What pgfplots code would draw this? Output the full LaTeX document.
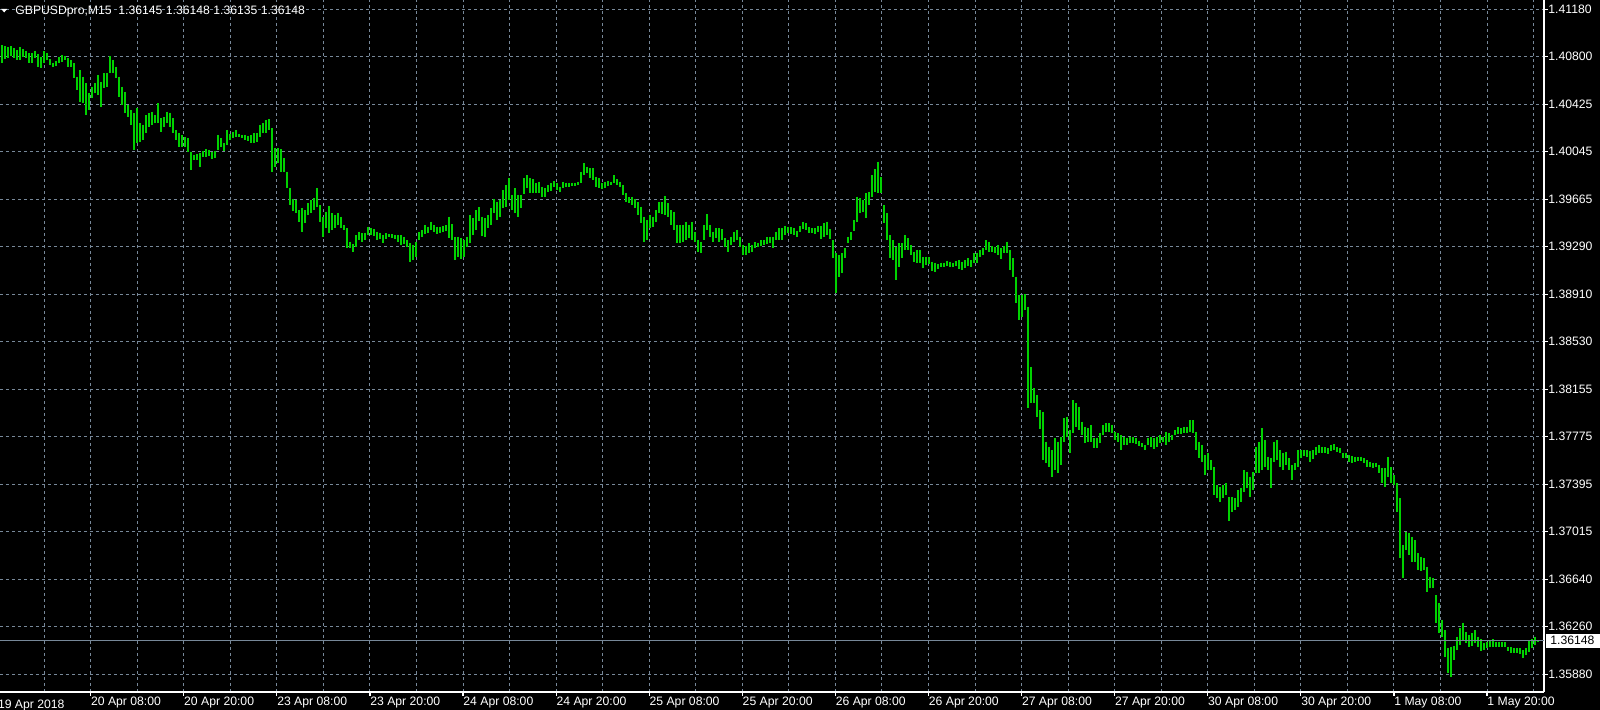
\documentclass[border=0pt]{standalone}
\usepackage{fontspec}
\setmainfont{Liberation Sans}
\usepackage{pgfplots}
\usepackage{pgfplotstable}
\pgfplotsset{compat=1.18}
\definecolor{barg}{RGB}{0,210,0}
\definecolor{gridc}{RGB}{119,136,153}
% each bar: high, low, then a break
\pgfplotstableread{
k p
0 1.40895
0 1.40750
0 nan
1 1.40887
1 1.40781
1 nan
2 1.40879
2 1.40792
2 nan
3 1.40887
3 1.40808
3 nan
4 1.40869
4 1.40789
4 nan
5 1.40856
5 1.40776
5 nan
6 1.40879
6 1.40776
6 nan
7 1.40861
7 1.40802
7 nan
8 1.40850
8 1.40789
8 nan
9 1.40829
9 1.40750
9 nan
10 1.40834
10 1.40754
10 nan
11 1.40850
11 1.40789
11 nan
12 1.40824
12 1.40718
12 nan
13 1.40802
13 1.40710
13 nan
14 1.40848
14 1.40750
14 nan
15 1.40834
15 1.40776
15 nan
16 1.40781
16 1.40736
16 nan
17 1.40754
17 1.40718
17 nan
18 1.40770
18 1.40728
18 nan
19 1.40802
19 1.40750
19 nan
20 1.40816
20 1.40762
20 nan
21 1.40808
21 1.40776
21 nan
22 1.40789
22 1.40718
22 nan
23 1.40776
23 1.40722
23 nan
24 1.40750
24 1.40630
24 nan
25 1.40643
25 1.40537
25 nan
26 1.40696
26 1.40444
26 nan
27 1.40643
27 1.40431
27 nan
28 1.40590
28 1.40337
28 nan
29 1.40510
29 1.40377
29 nan
30 1.40563
30 1.40471
30 nan
31 1.40590
31 1.40510
31 nan
32 1.40656
32 1.40497
32 nan
33 1.40603
33 1.40404
33 nan
34 1.40670
34 1.40550
34 nan
35 1.40675
35 1.40563
35 nan
36 1.40808
36 1.40670
36 nan
37 1.40776
37 1.40670
37 nan
38 1.40722
38 1.40630
38 nan
39 1.40643
39 1.40483
39 nan
40 1.40563
40 1.40417
40 nan
41 1.40523
41 1.40351
41 nan
42 1.40417
42 1.40324
42 nan
43 1.40377
43 1.40258
43 nan
44 1.40351
44 1.40059
44 nan
45 1.40391
45 1.40112
45 nan
46 1.40271
46 1.40125
46 nan
47 1.40258
47 1.40138
47 nan
48 1.40337
48 1.40192
48 nan
49 1.40351
49 1.40244
49 nan
50 1.40364
50 1.40258
50 nan
51 1.40337
51 1.40271
51 nan
52 1.40431
52 1.40271
52 nan
53 1.40311
53 1.40204
53 nan
54 1.40319
54 1.40244
54 nan
55 1.40364
55 1.40271
55 nan
56 1.40356
56 1.40244
56 nan
57 1.40311
57 1.40192
57 nan
58 1.40218
58 1.40138
58 nan
59 1.40192
59 1.40085
59 nan
60 1.40178
60 1.40080
60 nan
61 1.40165
61 1.40085
61 nan
62 1.40152
62 1.40045
62 nan
63 1.40045
63 1.39899
63 nan
64 1.40019
64 1.39979
64 nan
65 1.40027
65 1.39979
65 nan
66 1.40032
66 1.39921
66 nan
67 1.40053
67 1.40000
67 nan
68 1.40064
68 1.40005
68 nan
69 1.40059
69 1.40011
69 nan
70 1.40045
70 1.39984
70 nan
71 1.40053
71 1.39992
71 nan
72 1.40178
72 1.40059
72 nan
73 1.40152
73 1.40085
73 nan
74 1.40112
74 1.40053
74 nan
75 1.40218
75 1.40098
75 nan
76 1.40186
76 1.40138
76 nan
77 1.40204
77 1.40152
77 nan
78 1.40218
78 1.40160
78 nan
79 1.40186
79 1.40160
79 nan
80 1.40178
80 1.40152
80 nan
81 1.40178
81 1.40138
81 nan
82 1.40170
82 1.40133
82 nan
83 1.40178
83 1.40117
83 nan
84 1.40196
84 1.40117
84 nan
85 1.40192
85 1.40125
85 nan
86 1.40258
86 1.40165
86 nan
87 1.40271
87 1.40192
87 nan
88 1.40298
88 1.40196
88 nan
89 1.40303
89 1.40218
89 nan
90 1.40231
90 1.39886
90 nan
91 1.40072
91 1.39925
91 nan
92 1.40072
92 1.39953
92 nan
93 1.40064
93 1.39886
93 nan
94 1.39992
94 1.39886
94 nan
95 1.39886
95 1.39753
95 nan
96 1.39753
96 1.39620
96 nan
97 1.39666
97 1.39575
97 nan
98 1.39660
98 1.39554
98 nan
99 1.39580
99 1.39487
99 nan
100 1.39594
100 1.39407
100 nan
101 1.39580
101 1.39474
101 nan
102 1.39634
102 1.39540
102 nan
103 1.39660
103 1.39554
103 nan
104 1.39674
104 1.39580
104 nan
105 1.39753
105 1.39602
105 nan
106 1.39620
106 1.39487
106 nan
107 1.39527
107 1.39368
107 nan
108 1.39567
108 1.39434
108 nan
109 1.39612
109 1.39399
109 nan
110 1.39554
110 1.39421
110 nan
111 1.39540
111 1.39434
111 nan
112 1.39559
112 1.39461
112 nan
113 1.39527
113 1.39434
113 nan
114 1.39461
114 1.39421
114 nan
115 1.39434
115 1.39275
115 nan
116 1.39328
116 1.39275
116 nan
117 1.39309
117 1.39248
117 nan
118 1.39381
118 1.39288
118 nan
119 1.39407
119 1.39341
119 nan
120 1.39395
120 1.39328
120 nan
121 1.39399
121 1.39341
121 nan
122 1.39447
122 1.39381
122 nan
123 1.39434
123 1.39381
123 nan
124 1.39427
124 1.39373
124 nan
125 1.39407
125 1.39341
125 nan
126 1.39399
126 1.39347
126 nan
127 1.39381
127 1.39320
127 nan
128 1.39395
128 1.39347
128 nan
129 1.39389
129 1.39363
129 nan
130 1.39389
130 1.39357
130 nan
131 1.39381
131 1.39347
131 nan
132 1.39381
132 1.39328
132 nan
133 1.39381
133 1.39301
133 nan
134 1.39368
134 1.39309
134 nan
135 1.39341
135 1.39288
135 nan
136 1.39315
136 1.39164
136 nan
137 1.39301
137 1.39182
137 nan
138 1.39328
138 1.39208
138 nan
139 1.39407
139 1.39341
139 nan
140 1.39421
140 1.39363
140 nan
141 1.39461
141 1.39389
141 nan
142 1.39447
142 1.39395
142 nan
143 1.39487
143 1.39421
143 nan
144 1.39461
144 1.39407
144 nan
145 1.39447
145 1.39389
145 nan
146 1.39447
146 1.39399
146 nan
147 1.39453
147 1.39407
147 nan
148 1.39461
148 1.39415
148 nan
149 1.39527
149 1.39355
149 nan
150 1.39469
150 1.39341
150 nan
151 1.39368
151 1.39182
151 nan
152 1.39368
152 1.39208
152 nan
153 1.39355
153 1.39187
153 nan
154 1.39341
154 1.39208
154 nan
155 1.39368
155 1.39288
155 nan
156 1.39540
156 1.39315
156 nan
157 1.39514
157 1.39381
157 nan
158 1.39580
158 1.39421
158 nan
159 1.39602
159 1.39495
159 nan
160 1.39527
160 1.39373
160 nan
161 1.39514
161 1.39368
161 nan
162 1.39540
162 1.39434
162 nan
163 1.39594
163 1.39461
163 nan
164 1.39666
164 1.39554
164 nan
165 1.39646
165 1.39501
165 nan
166 1.39660
166 1.39527
166 nan
167 1.39740
167 1.39594
167 nan
168 1.39780
168 1.39607
168 nan
169 1.39833
169 1.39660
169 nan
170 1.39700
170 1.39580
170 nan
171 1.39753
171 1.39554
171 nan
172 1.39700
172 1.39527
172 nan
173 1.39700
173 1.39596
173 nan
174 1.39835
174 1.39708
174 nan
175 1.39859
175 1.39753
175 nan
176 1.39833
176 1.39713
176 nan
177 1.39825
177 1.39718
177 nan
178 1.39793
178 1.39718
178 nan
179 1.39806
179 1.39713
179 nan
180 1.39766
180 1.39686
180 nan
181 1.39753
181 1.39682
181 nan
182 1.39780
182 1.39726
182 nan
183 1.39793
183 1.39734
183 nan
184 1.39814
184 1.39766
184 nan
185 1.39793
185 1.39740
185 nan
186 1.39766
186 1.39726
186 nan
187 1.39806
187 1.39753
187 nan
188 1.39798
188 1.39761
188 nan
189 1.39798
189 1.39766
189 nan
190 1.39798
190 1.39772
190 nan
191 1.39798
191 1.39772
191 nan
192 1.39806
192 1.39780
192 nan
193 1.39886
193 1.39793
193 nan
194 1.39953
194 1.39859
194 nan
195 1.39925
195 1.39873
195 nan
196 1.39913
196 1.39833
196 nan
197 1.39913
197 1.39819
197 nan
198 1.39846
198 1.39766
198 nan
199 1.39833
199 1.39753
199 nan
200 1.39793
200 1.39745
200 nan
201 1.39806
201 1.39753
201 nan
202 1.39814
202 1.39772
202 nan
203 1.39806
203 1.39780
203 nan
204 1.39859
204 1.39793
204 nan
205 1.39825
205 1.39780
205 nan
206 1.39806
206 1.39766
206 nan
207 1.39780
207 1.39700
207 nan
208 1.39713
208 1.39646
208 nan
209 1.39682
209 1.39634
209 nan
210 1.39686
210 1.39620
210 nan
211 1.39666
211 1.39594
211 nan
212 1.39646
212 1.39540
212 nan
213 1.39607
213 1.39474
213 nan
214 1.39527
214 1.39328
214 nan
215 1.39501
215 1.39341
215 nan
216 1.39540
216 1.39434
216 nan
217 1.39527
217 1.39447
217 nan
218 1.39580
218 1.39487
218 nan
219 1.39646
219 1.39554
219 nan
220 1.39646
220 1.39548
220 nan
221 1.39692
221 1.39540
221 nan
222 1.39634
222 1.39527
222 nan
223 1.39580
223 1.39461
223 nan
224 1.39567
224 1.39421
224 nan
225 1.39461
225 1.39315
225 nan
226 1.39461
226 1.39315
226 nan
227 1.39461
227 1.39328
227 nan
228 1.39487
228 1.39341
228 nan
229 1.39461
229 1.39355
229 nan
230 1.39487
230 1.39341
230 nan
231 1.39407
231 1.39328
231 nan
232 1.39341
232 1.39248
232 nan
233 1.39328
233 1.39235
233 nan
234 1.39461
234 1.39341
234 nan
235 1.39548
235 1.39421
235 nan
236 1.39461
236 1.39368
236 nan
237 1.39407
237 1.39328
237 nan
238 1.39434
238 1.39355
238 nan
239 1.39434
239 1.39328
239 nan
240 1.39427
240 1.39341
240 nan
241 1.39355
241 1.39288
241 nan
242 1.39341
242 1.39248
242 nan
243 1.39368
243 1.39301
243 nan
244 1.39407
244 1.39328
244 nan
245 1.39421
245 1.39341
245 nan
246 1.39368
246 1.39288
246 nan
247 1.39301
247 1.39222
247 nan
248 1.39293
248 1.39222
248 nan
249 1.39315
249 1.39235
249 nan
250 1.39301
250 1.39248
250 nan
251 1.39328
251 1.39275
251 nan
252 1.39320
252 1.39283
252 nan
253 1.39341
253 1.39293
253 nan
254 1.39341
254 1.39301
254 nan
255 1.39363
255 1.39309
255 nan
256 1.39368
256 1.39315
256 nan
257 1.39368
257 1.39275
257 nan
258 1.39407
258 1.39341
258 nan
259 1.39434
259 1.39341
259 nan
260 1.39434
260 1.39341
260 nan
261 1.39453
261 1.39381
261 nan
262 1.39447
262 1.39395
262 nan
263 1.39442
263 1.39389
263 nan
264 1.39434
264 1.39381
264 nan
265 1.39415
265 1.39368
265 nan
266 1.39453
266 1.39407
266 nan
267 1.39487
267 1.39427
267 nan
268 1.39474
268 1.39421
268 nan
269 1.39442
269 1.39399
269 nan
270 1.39434
270 1.39399
270 nan
271 1.39434
271 1.39389
271 nan
272 1.39453
272 1.39407
272 nan
273 1.39453
273 1.39347
273 nan
274 1.39474
274 1.39368
274 nan
275 1.39487
275 1.39381
275 nan
276 1.39427
276 1.39347
276 nan
277 1.39341
277 1.39195
277 nan
278 1.39235
278 1.38921
278 nan
279 1.39222
279 1.39049
279 nan
280 1.39235
280 1.39076
280 nan
281 1.39275
281 1.39195
281 nan
282 1.39368
282 1.39315
282 nan
283 1.39407
283 1.39341
283 nan
284 1.39501
284 1.39415
284 nan
285 1.39686
285 1.39487
285 nan
286 1.39674
286 1.39554
286 nan
287 1.39660
287 1.39567
287 nan
288 1.39713
288 1.39514
288 nan
289 1.39726
289 1.39620
289 nan
290 1.39859
290 1.39686
290 nan
291 1.39905
291 1.39726
291 nan
292 1.39965
292 1.39713
292 nan
293 1.39846
293 1.39713
293 nan
294 1.39620
294 1.39474
294 nan
295 1.39554
295 1.39341
295 nan
296 1.39381
296 1.39195
296 nan
297 1.39341
297 1.39182
297 nan
298 1.39288
298 1.39022
298 nan
299 1.39315
299 1.39128
299 nan
300 1.39315
300 1.39195
300 nan
301 1.39381
301 1.39262
301 nan
302 1.39355
302 1.39262
302 nan
303 1.39301
303 1.39222
303 nan
304 1.39248
304 1.39168
304 nan
305 1.39262
305 1.39160
305 nan
306 1.39262
306 1.39156
306 nan
307 1.39203
307 1.39116
307 nan
308 1.39208
308 1.39142
308 nan
309 1.39203
309 1.39150
309 nan
310 1.39168
310 1.39097
310 nan
311 1.39160
311 1.39089
311 nan
312 1.39150
312 1.39108
312 nan
313 1.39160
313 1.39124
313 nan
314 1.39160
314 1.39128
314 nan
315 1.39176
315 1.39134
315 nan
316 1.39168
316 1.39124
316 nan
317 1.39160
317 1.39124
317 nan
318 1.39176
318 1.39134
318 nan
319 1.39182
319 1.39108
319 nan
320 1.39168
320 1.39102
320 nan
321 1.39182
321 1.39116
321 nan
322 1.39195
322 1.39134
322 nan
323 1.39182
323 1.39124
323 nan
324 1.39235
324 1.39156
324 nan
325 1.39240
325 1.39160
325 nan
326 1.39262
326 1.39203
326 nan
327 1.39275
327 1.39222
327 nan
328 1.39341
328 1.39262
328 nan
329 1.39328
329 1.39248
329 nan
330 1.39293
330 1.39248
330 nan
331 1.39288
331 1.39235
331 nan
332 1.39301
332 1.39222
332 nan
333 1.39275
333 1.39187
333 nan
334 1.39293
334 1.39235
334 nan
335 1.39328
335 1.39235
335 nan
336 1.39262
336 1.39102
336 nan
337 1.39195
337 1.39049
337 nan
338 1.39049
338 1.38837
338 nan
339 1.38903
339 1.38704
339 nan
340 1.38903
340 1.38730
340 nan
341 1.38911
341 1.38783
341 nan
342 1.38810
342 1.38000
342 nan
343 1.38331
343 1.38040
343 nan
344 1.38159
344 1.38040
344 nan
345 1.38106
345 1.37933
345 nan
346 1.37986
346 1.37833
346 nan
347 1.37973
347 1.37588
347 nan
348 1.37734
348 1.37562
348 nan
349 1.37694
349 1.37534
349 nan
350 1.37668
350 1.37450
350 nan
351 1.37761
351 1.37508
351 nan
352 1.37734
352 1.37482
352 nan
353 1.37774
353 1.37548
353 nan
354 1.37920
354 1.37734
354 nan
355 1.37933
355 1.37774
355 nan
356 1.37827
356 1.37641
356 nan
357 1.38066
357 1.37801
357 nan
358 1.38040
358 1.37853
358 nan
359 1.38013
359 1.37827
359 nan
360 1.37893
360 1.37787
360 nan
361 1.37853
361 1.37721
361 nan
362 1.37840
362 1.37734
362 nan
363 1.37867
363 1.37734
363 nan
364 1.37761
364 1.37681
364 nan
365 1.37761
365 1.37681
365 nan
366 1.37801
366 1.37721
366 nan
367 1.37867
367 1.37787
367 nan
368 1.37880
368 1.37813
368 nan
369 1.37880
369 1.37813
369 nan
370 1.37867
370 1.37801
370 nan
371 1.37813
371 1.37747
371 nan
372 1.37801
372 1.37734
372 nan
373 1.37787
373 1.37668
373 nan
374 1.37774
374 1.37707
374 nan
375 1.37761
375 1.37707
375 nan
376 1.37774
376 1.37721
376 nan
377 1.37774
377 1.37726
377 nan
378 1.37761
378 1.37715
378 nan
379 1.37742
379 1.37699
379 nan
380 1.37721
380 1.37689
380 nan
381 1.37707
381 1.37668
381 nan
382 1.37761
382 1.37707
382 nan
383 1.37774
383 1.37694
383 nan
384 1.37761
384 1.37673
384 nan
385 1.37774
385 1.37694
385 nan
386 1.37787
386 1.37721
386 nan
387 1.37774
387 1.37734
387 nan
388 1.37813
388 1.37707
388 nan
389 1.37801
389 1.37734
389 nan
390 1.37787
390 1.37747
390 nan
391 1.37827
391 1.37787
391 nan
392 1.37848
392 1.37795
392 nan
393 1.37840
393 1.37795
393 nan
394 1.37848
394 1.37801
394 nan
395 1.37848
395 1.37805
395 nan
396 1.37907
396 1.37813
396 nan
397 1.37907
397 1.37801
397 nan
398 1.37813
398 1.37668
398 nan
399 1.37734
399 1.37601
399 nan
400 1.37707
400 1.37574
400 nan
401 1.37628
401 1.37468
401 nan
402 1.37646
402 1.37508
402 nan
403 1.37588
403 1.37508
403 nan
404 1.37534
404 1.37309
404 nan
405 1.37389
405 1.37283
405 nan
406 1.37375
406 1.37255
406 nan
407 1.37389
407 1.37283
407 nan
408 1.37402
408 1.37309
408 nan
409 1.37295
409 1.37104
409 nan
410 1.37295
410 1.37176
410 nan
411 1.37283
411 1.37189
411 nan
412 1.37349
412 1.37211
412 nan
413 1.37362
413 1.37255
413 nan
414 1.37508
414 1.37335
414 nan
415 1.37495
415 1.37362
415 nan
416 1.37455
416 1.37295
416 nan
417 1.37495
417 1.37349
417 nan
418 1.37694
418 1.37482
418 nan
419 1.37734
419 1.37482
419 nan
420 1.37840
420 1.37508
420 nan
421 1.37747
421 1.37534
421 nan
422 1.37614
422 1.37508
422 nan
423 1.37601
423 1.37362
423 nan
424 1.37734
424 1.37574
424 nan
425 1.37747
425 1.37588
425 nan
426 1.37668
426 1.37534
426 nan
427 1.37641
427 1.37508
427 nan
428 1.37654
428 1.37548
428 nan
429 1.37601
429 1.37508
429 nan
430 1.37548
430 1.37428
430 nan
431 1.37562
431 1.37508
431 nan
432 1.37668
432 1.37534
432 nan
433 1.37668
433 1.37601
433 nan
434 1.37668
434 1.37620
434 nan
435 1.37668
435 1.37614
435 nan
436 1.37662
436 1.37574
436 nan
437 1.37668
437 1.37593
437 nan
438 1.37694
438 1.37627
438 nan
439 1.37707
439 1.37641
439 nan
440 1.37694
440 1.37646
440 nan
441 1.37689
441 1.37641
441 nan
442 1.37681
442 1.37636
442 nan
443 1.37710
443 1.37662
443 nan
444 1.37715
444 1.37668
444 nan
445 1.37689
445 1.37652
445 nan
446 1.37681
446 1.37641
446 nan
447 1.37646
447 1.37601
447 nan
448 1.37641
448 1.37601
448 nan
449 1.37627
449 1.37574
449 nan
450 1.37620
450 1.37566
450 nan
451 1.37614
451 1.37574
451 nan
452 1.37609
452 1.37582
452 nan
453 1.37614
453 1.37582
453 nan
454 1.37601
454 1.37566
454 nan
455 1.37588
455 1.37530
455 nan
456 1.37574
456 1.37534
456 nan
457 1.37566
457 1.37522
457 nan
458 1.37566
458 1.37530
458 nan
459 1.37548
459 1.37482
459 nan
460 1.37522
460 1.37402
460 nan
461 1.37522
461 1.37375
461 nan
462 1.37609
462 1.37455
462 nan
463 1.37534
463 1.37402
463 nan
464 1.37468
464 1.37389
464 nan
465 1.37402
465 1.37176
465 nan
466 1.37283
466 1.36804
466 nan
467 1.36910
467 1.36645
467 nan
468 1.37016
468 1.36871
468 nan
469 1.37004
469 1.36831
469 nan
470 1.36977
470 1.36777
470 nan
471 1.36950
471 1.36777
471 nan
472 1.36844
472 1.36711
472 nan
473 1.36817
473 1.36706
473 nan
474 1.36804
474 1.36711
474 nan
475 1.36737
475 1.36538
475 nan
476 1.36658
476 1.36565
476 nan
477 1.36645
477 1.36565
477 nan
478 1.36512
478 1.36286
478 nan
479 1.36446
479 1.36207
479 nan
480 1.36313
480 1.36180
480 nan
481 1.36233
481 1.36020
481 nan
482 1.36087
482 1.35888
482 nan
483 1.36100
483 1.35861
483 nan
484 1.36105
484 1.35994
484 nan
485 1.36180
485 1.36074
485 nan
486 1.36246
486 1.36113
486 nan
487 1.36291
487 1.36153
487 nan
488 1.36219
488 1.36127
488 nan
489 1.36193
489 1.36100
489 nan
490 1.36207
490 1.36105
490 nan
491 1.36233
491 1.36127
491 nan
492 1.36180
492 1.36100
492 nan
493 1.36159
493 1.36068
493 nan
494 1.36127
494 1.36074
494 nan
495 1.36140
495 1.36087
495 nan
496 1.36148
496 1.36095
496 nan
497 1.36159
497 1.36100
497 nan
498 1.36140
498 1.36095
498 nan
499 1.36140
499 1.36100
499 nan
500 1.36140
500 1.36095
500 nan
501 1.36135
501 1.36100
501 nan
502 1.36100
502 1.36068
502 nan
503 1.36095
503 1.36052
503 nan
504 1.36087
504 1.36047
504 nan
505 1.36087
505 1.36052
505 nan
506 1.36087
506 1.36042
506 nan
507 1.36074
507 1.36007
507 nan
508 1.36087
508 1.36034
508 nan
509 1.36148
509 1.36060
509 nan
510 1.36159
510 1.36087
510 nan
511 1.36180
511 1.36113
511 nan
512 1.36148
512 1.36135
512 nan
}\bars

\begin{document}
\begin{tikzpicture}[font=\fontsize{6.1}{7}\selectfont]
\path[use as bounding box] (0,-9pt) rectangle (800pt,346pt);
\fill[black] (0,-9pt) rectangle (800pt,346pt);
\clip (0,-9pt) rectangle (800pt,346pt);
\begin{axis}[
  at={(0,0)}, anchor=south west,
  scale only axis, width=772pt, height=346pt,
  xmin=-0.6667, xmax=514, ymin=1.35739, ymax=1.41254,
  axis x line=bottom, axis y line=right,
  axis line style={draw=white, line width=0.8pt, -},
  every outer x axis line/.append style={-},
  every outer y axis line/.append style={-},
  tick align=outside, major tick length=2pt, minor tick length=0pt,
  major tick style={white, line width=0.6pt},
  xtick={29.567,60.597,91.627,122.657,153.687,184.717,215.747,246.777,277.807,308.837,339.867,370.897,401.927,432.957,463.987,495.017},
  xticklabels={20 Apr 08:00,20 Apr 20:00,23 Apr 08:00,23 Apr 20:00,24 Apr 08:00,24 Apr 20:00,25 Apr 08:00,25 Apr 20:00,26 Apr 08:00,26 Apr 20:00,27 Apr 08:00,27 Apr 20:00,30 Apr 08:00,30 Apr 20:00,1 May 08:00,1 May 20:00},
  minor xtick={14.052,45.082,76.112,107.142,138.172,169.202,200.232,231.262,262.292,293.322,324.352,355.382,386.412,417.442,448.472,479.502,510.532},
  ytick={1.358800,1.362586,1.366371,1.370157,1.373943,1.377729,1.381514,1.385300,1.389086,1.392871,1.396657,1.400443,1.404229,1.408014,1.411800},
  yticklabels={1.35880,1.36260,1.36640,1.37015,1.37395,1.37775,1.38155,1.38530,1.38910,1.39290,1.39665,1.40045,1.40425,1.40800,1.41180},
  xmajorgrids, xminorgrids, ymajorgrids,
  major grid style={gridc, line width=0.5pt, dash pattern=on 1.6pt off 1.4pt},
  minor grid style={gridc, line width=0.5pt, dash pattern=on 1.6pt off 1.4pt},
  xticklabel style={anchor=north west, inner sep=0pt, text=white, yshift=-0.5pt},
  yticklabel style={anchor=west, inner sep=0pt, text=white},
  /pgf/number format/assume math mode=true,
]
\addplot[barg, line width=1.45pt, mark=none, unbounded coords=jump]
  table[x=k, y=p] {\bars};
\addplot[gridc, line width=0.6pt, forget plot] coordinates {(-0.6667,1.36148) (514,1.36148)};
\coordinate (a19) at (axis cs:-1.463,1.35739);
\coordinate (pb) at (axis cs:514,1.36148);
\end{axis}
\node[anchor=north west, inner sep=0pt, text=white] at ([yshift=-3.7pt]a19) {19 Apr 2018};
\fill[white] ([xshift=1pt,yshift=-3.5pt]pb) rectangle ([xshift=28pt,yshift=3.5pt]pb);
\node[anchor=west, inner sep=0pt, text=black] at ([xshift=3pt]pb) {1.36148};
\fill[white] (0.5pt,341.6pt) -- (3.7pt,341.6pt) -- (2.1pt,339.8pt) -- cycle;
\node[anchor=base west, inner sep=0pt, text=white] at (7.5pt,338.5pt) {GBPUSDpro,M15\ \ 1.36145 1.36148 1.36135 1.36148};
\end{tikzpicture}
\end{document}
